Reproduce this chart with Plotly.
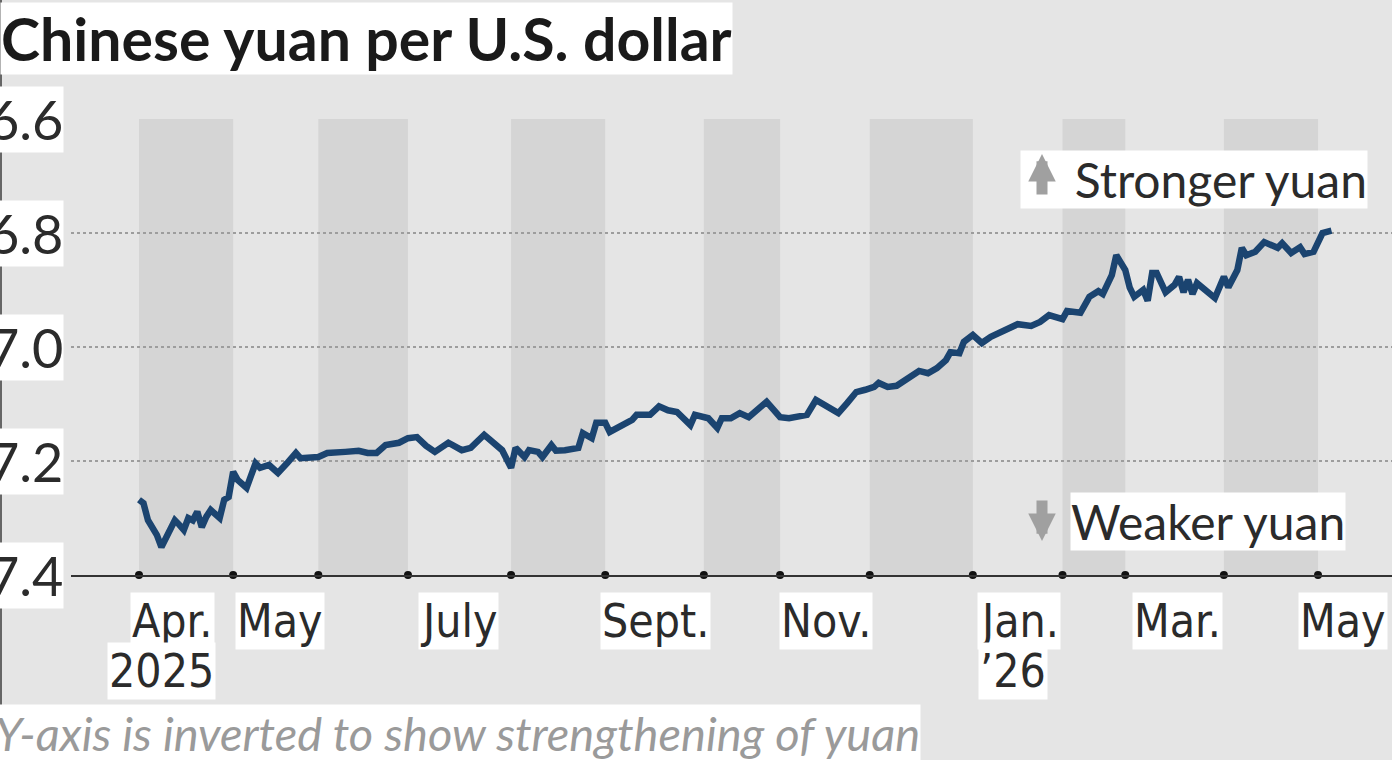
import plotly.graph_objects as go

# x is the trading-day index counted from April 1, 2025
day = [0, 1, 2, 4, 5, 6, 8, 9, 10, 11, 12, 13, 14, 15, 16, 18, 19, 20,
       21, 22, 24, 26, 27, 29, 31, 33, 35, 36, 38, 40, 42, 44, 46, 49, 51, 53,
       55, 58, 60, 62, 64, 66, 69, 72, 74, 77, 79, 81, 83, 84, 86, 87, 89, 90,
       92, 93, 95, 98, 99, 101, 102, 104, 105, 107, 110, 111, 114, 116, 118, 120,
       123, 124, 127, 129, 130, 132, 134, 136, 138, 140, 141, 143, 145, 147, 149,
       151, 153, 155, 156, 158, 160, 162, 164, 165, 167, 169, 172, 174, 176, 178,
       180, 181, 183, 184, 186, 188, 190, 192, 194, 196, 199, 201, 203, 206, 207,
       210, 212, 214, 215, 217, 218, 220, 221, 222, 224, 225, 226, 227, 229, 231,
       232, 233, 234, 235, 236, 238, 240, 242, 243, 245, 246, 247, 249, 251, 253,
       254, 255, 257, 259, 260, 262, 264, 266]
rate = [7.268, 7.274, 7.304, 7.330, 7.351, 7.335, 7.304, 7.312, 7.321, 7.300,
        7.304, 7.289, 7.316, 7.298, 7.286, 7.300, 7.268, 7.263,
        7.219, 7.233, 7.247, 7.204, 7.212, 7.207, 7.221, 7.204, 7.186, 7.195,
        7.193, 7.193, 7.186, 7.186, 7.184, 7.182, 7.186, 7.186,
        7.172, 7.168, 7.160, 7.158, 7.173, 7.184, 7.168, 7.181, 7.177, 7.154,
        7.168, 7.181, 7.212, 7.177, 7.193, 7.181, 7.184, 7.193,
        7.172, 7.182, 7.181, 7.177, 7.151, 7.160, 7.133, 7.133, 7.149, 7.140,
        7.128, 7.119, 7.119, 7.104, 7.111, 7.114,
        7.137, 7.119, 7.125, 7.142, 7.125, 7.125, 7.116, 7.123, 7.111, 7.096,
        7.105, 7.123, 7.125, 7.123, 7.119,
        7.093, 7.102, 7.111, 7.116, 7.098, 7.079, 7.075, 7.070, 7.063, 7.070,
        7.068, 7.054, 7.042, 7.046, 7.037,
        7.023, 7.009, 7.011, 6.991, 6.979, 6.993, 6.982, 6.975, 6.968, 6.960,
        6.963, 6.956, 6.944, 6.951, 6.937,
        6.940, 6.912, 6.902, 6.907, 6.874, 6.839, 6.865, 6.896, 6.912, 6.900,
        6.919, 6.870, 6.870, 6.904, 6.891,
        6.877, 6.904, 6.882, 6.907, 6.888, 6.900, 6.914, 6.877, 6.895, 6.865,
        6.826, 6.839, 6.833, 6.816, 6.821,
        6.826, 6.818, 6.835, 6.825, 6.837, 6.833, 6.800, 6.796]

# first trading day of each month, Apr. 2025 .. May 2026
month_start = [0, 21, 40, 60, 83, 104, 126, 143, 163, 186, 206, 220, 242, 263]
month_labels = ["Apr.", "May", "July", "Sept.", "Nov.", "Jan.", "Mar.", "May"]
year_labels = ["2025", "\u201926"]
y_ticks = [6.6, 6.8, 7.0, 7.2, 7.4]

W, H = 1392, 760
L, R, T, B = 71, 0, 119, 185


def px(x):
    return (x - L) / (W - L - R)


def py(y):
    return (H - B - y) / (H - T - B)


BG = "#e5e5e5"
BAND = "#d5d5d5"
LINE = "#1b4470"
TXT = "#2b2b2b"
FONT = "Lato"
NARROW = "Liberation Sans Narrow, DejaVu Sans Condensed, Lato"

fig = go.Figure()

# shaded every other month
shapes = []
for i in range(0, len(month_start) - 1, 2):
    shapes.append(dict(type="rect", xref="x", yref="y",
                       x0=month_start[i], x1=month_start[i + 1], y0=6.6, y1=7.4,
                       fillcolor=BAND, line_width=0, layer="below"))
shapes.append(dict(type="line", xref="paper", yref="paper",
                   x0=px(1), x1=px(1), y0=py(0), y1=py(760),
                   line=dict(color="#666", width=2)))

fig.add_trace(go.Scatter(x=day, y=rate, mode="lines",
                         line=dict(color=LINE, width=6.5),
                         hoverinfo="skip", showlegend=False))
fig.add_trace(go.Scatter(x=month_start, y=[7.4] * len(month_start), mode="markers",
                         marker=dict(color="#111", size=8), cliponaxis=False,
                         hoverinfo="skip", showlegend=False))

ann = []
# title
ann.append(dict(text="<b>Chinese yuan per U.S. dollar</b>", xref="paper", yref="paper",
                x=px(0), y=py(2), xanchor="left", yanchor="top", showarrow=False,
                font=dict(family=FONT, size=59, color="#1a1a1a"),
                bgcolor="white", borderpad=0))
# y tick labels
for v in y_ticks:
    ann.append(dict(text=f"{v:.1f}", xref="paper", yref="y", x=px(64), y=v,
                    xanchor="right", yanchor="middle", showarrow=False,
                    font=dict(family=FONT, size=54, color=TXT),
                    bgcolor="white", borderpad=0))
# month labels, centred near the middle of each month
label_px = [172, 280, 458, 655, 826, 1019, 1177, 1343]
for lab, x in zip(month_labels, label_px):
    ann.append(dict(text=lab, xref="paper", yref="paper", x=px(x), y=py(592),
                    xanchor="center", yanchor="top", showarrow=False,
                    font=dict(family=NARROW, size=46, color=TXT),
                    bgcolor="white", borderpad=1))
for lab, x in zip(year_labels, [161, 1013]):
    ann.append(dict(text=lab, xref="paper", yref="paper", x=px(x), y=py(642),
                    xanchor="center", yanchor="top", showarrow=False,
                    font=dict(family=NARROW, size=46, color=TXT),
                    bgcolor="white", borderpad=1))
# direction notes
ann.append(dict(text="Stronger yuan", xref="paper", yref="paper", x=px(1368), y=py(179),
                xanchor="right", yanchor="middle", showarrow=False, width=346, align="right",
                font=dict(family=FONT, size=48, color=TXT), bgcolor="white", borderpad=0))
ann.append(dict(text="Weaker yuan", xref="paper", yref="paper", x=px(1346), y=py(521),
                xanchor="right", yanchor="middle", showarrow=False,
                font=dict(family=FONT, size=48, color=TXT), bgcolor="white", borderpad=0))
ann.append(dict(text="", xref="paper", yref="paper", x=px(1042), y=py(154),
                ax=0, ay=42, showarrow=True, arrowhead=2, arrowsize=0.5,
                arrowwidth=11, arrowcolor="#a0a0a0"))
ann.append(dict(text="", xref="paper", yref="paper", x=px(1042), y=py(541),
                ax=0, ay=-42, showarrow=True, arrowhead=2, arrowsize=0.5,
                arrowwidth=11, arrowcolor="#a0a0a0"))
# footnotes (the source line runs off the bottom edge, as in the original)
ann.append(dict(text="<i>Y-axis is inverted to show strengthening of yuan</i>",
                xref="paper", yref="paper", x=px(-6), y=py(704), xanchor="left", yanchor="top",
                align="left", showarrow=False, bgcolor="white", borderpad=0,
                font=dict(family=FONT, size=47, color="#9a9a9a")))
ann.append(dict(text="<i>Source: Wind Information</i>",
                xref="paper", yref="paper", x=px(-6), y=py(751), xanchor="left", yanchor="top",
                align="left", showarrow=False, bgcolor="white", borderpad=0,
                font=dict(family=FONT, size=47, color="#9a9a9a")))

fig.update_layout(
    width=W, height=H,
    margin=dict(l=L, r=R, t=T, b=B),
    paper_bgcolor=BG, plot_bgcolor=BG,
    shapes=shapes, annotations=ann,
    xaxis=dict(range=[(L - 139) / 4.483, (W - 139) / 4.483], showgrid=False,
               zeroline=False, showticklabels=False, ticks="",
               showline=True, linecolor="#333", linewidth=2),
    yaxis=dict(range=[7.4, 6.6], tickvals=y_ticks, showticklabels=False, ticks="",
               showgrid=True, gridcolor="#9d9d9d", griddash="dot", gridwidth=1.5,
               zeroline=False),
)

fig.write_html("out.html", config={"displayModeBar": False},
               post_script="document.body.style.margin='0';document.body.style.overflow='hidden';")
